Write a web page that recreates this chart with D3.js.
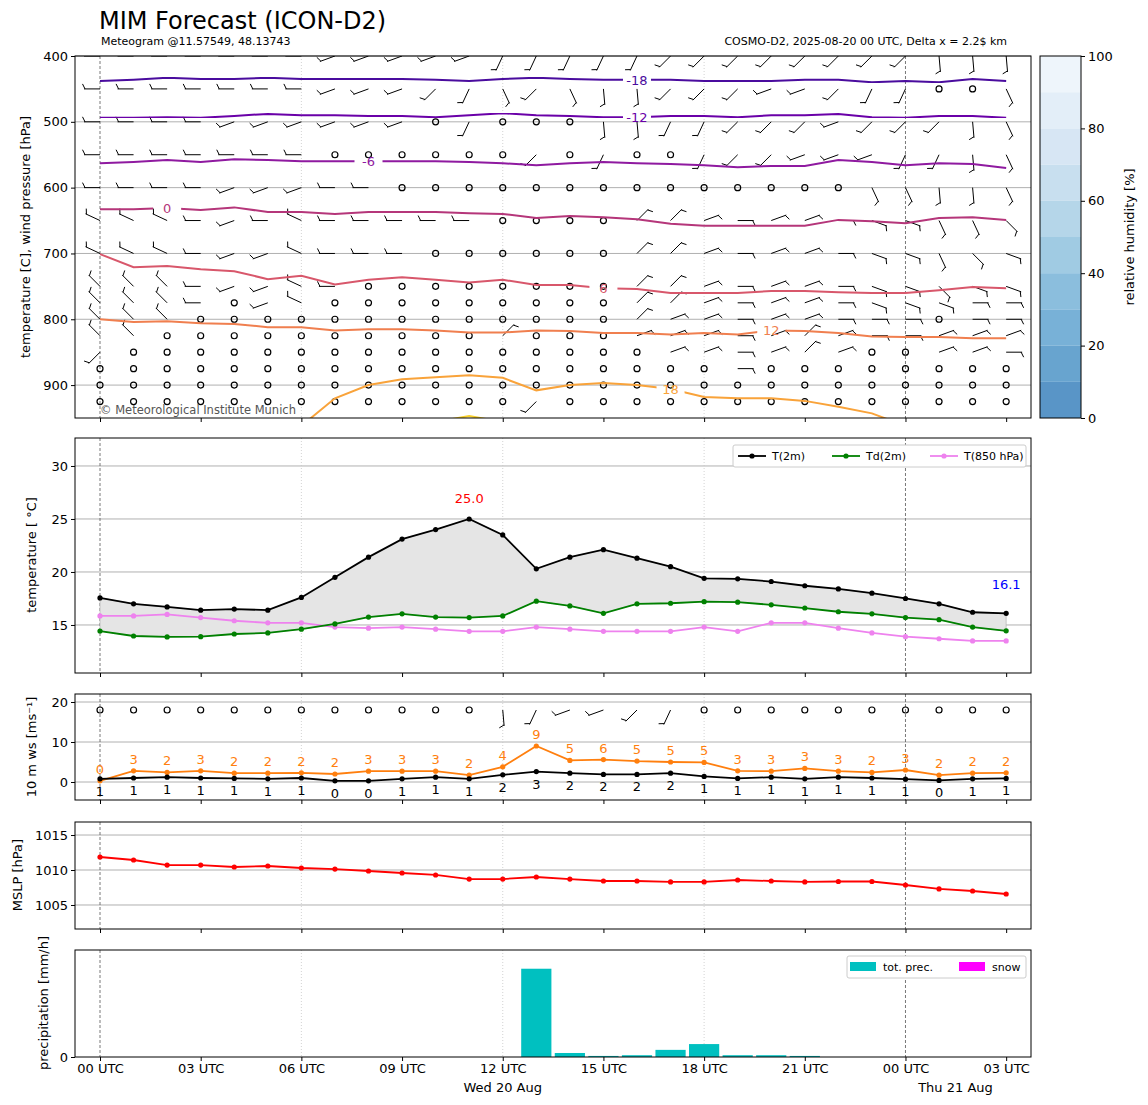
<!DOCTYPE html>
<html><head><meta charset="utf-8">
<script src="https://cdn.jsdelivr.net/npm/d3@7"></script>
<style>body{margin:0;background:#fff}text{font-family:"DejaVu Sans",sans-serif}</style>
</head><body><svg id="c" width="1148" height="1105"></svg>
<script>
const hours=[0,1,2,3,4,5,6,7,8,9,10,11,12,13,14,15,16,17,18,19,20,21,22,23,24,25,26,27];
const xTicks=[0,3,6,9,12,15,18,21,24,27];
const xTickLabels=["00 UTC","03 UTC","06 UTC","09 UTC","12 UTC","15 UTC","18 UTC","21 UTC","00 UTC","03 UTC"];
const pressureTicks=[400,500,600,700,800,900];
const barbLevels=[400,450,500,550,600,650,700,750,775,800,825,850,875,900,925];
const barbRows=[
"WWWWWWWwwwwwsssssSSSSSSSSUUU",
"WWWWWWWwwwSsqSqUUSSSwwSssooq",
"WWWWwwwwwwosoooUUssSSSwSSSUq",
"WWWWWWWooooooSosoosSSwwwssUq",
"WWWWwwwWWooooooooooooooqqUUq",
"TTTWwWTWWWWWooooNNeEeeExxqqQ",
"TTTWwwTWWWooooooNNeEeeExxqQx",
"MMMWwwTWooooooooNNeEeeExxQxx",
"MMMWowToooooooooNNeEeeExxxEE",
"MMMoooooooooooooNeeEeeEEEoEE",
"MMooooooooooNoooeeeEeNeEEeee",
"SooooooooooooooooeeEeNeooeeE",
"oooooooooooooooooooEoooooooo",
"oooooooooooooooooooooooooooo",
"oooooooooooooSoooooooooooooo"];
const wind10Row="ooooooooooooUswwSsoooooooooo";
const dirCodes={W:270,w:250,S:225,s:205,U:175,q:155,Q:135,x:110,E:90,e:70,N:45,T:295,M:315};
const isoLevels=[-18,-12,-6,0,6,12,18,24];
const isoColors=["#4a0c9e","#6a00a8","#8f1aa0","#b5367a","#d8576b","#f07f4f","#f9a33a","#f8d02a"];
const iso_m18=[438,436,433,435,435,433,435,435,435,435,436,438,435,433,435,436,436,436,438,438,438,436,436,440,438,440,435,438];
const iso_m12=[494,494,493,494,491,488,490,490,491,491,493,490,487,490,491,493,493,491,491,493,490,490,488,493,494,491,491,494];
const iso_m6=[563,561,558,561,557,558,560,560,560,560,560,561,563,566,563,561,563,564,566,569,567,567,558,561,566,563,564,570];
const iso_0=[633,633,631,634,630,637,637,640,637,637,637,639,640,646,643,645,648,655,658,658,658,658,649,651,654,646,645,649];
const iso_6=[701,721,719,724,727,739,734,747,740,736,740,744,740,748,748,753,754,760,760,760,757,757,759,760,760,756,751,753];
const iso_12=[800,804,803,806,807,812,812,817,815,815,817,820,820,817,818,821,821,823,821,823,817,818,821,826,827,827,829,829];
const iso_18=[null,null,null,null,null,null,962,920,900,891,888,885,889,908,900,897,900,906,918,920,920,924,933,943,962,null,null,null];
const iso_24=[null,null,null,null,null,null,null,null,null,null,956,947,956,null,null,null,null,null,null,null,null,null,null,null,null,null,null,null];
const isoLabelHour=[16,16,8,2,15,20,17,null];
const t2m=[17.55,17.0,16.7,16.4,16.5,16.4,17.6,19.5,21.4,23.1,24.0,25.0,23.5,20.3,21.4,22.1,21.3,20.5,19.4,19.35,19.1,18.7,18.4,18.0,17.5,17.0,16.2,16.1];
const td2m=[14.43,13.96,13.87,13.9,14.15,14.25,14.6,15.1,15.75,16.05,15.75,15.7,15.85,17.25,16.8,16.1,17.0,17.05,17.2,17.15,16.9,16.6,16.25,16.05,15.7,15.5,14.8,14.45];
const t850=[15.85,15.85,16.0,15.7,15.4,15.2,15.2,14.8,14.7,14.8,14.6,14.4,14.4,14.8,14.6,14.4,14.4,14.4,14.8,14.4,15.2,15.2,14.7,14.25,13.9,13.7,13.5,13.5];
const wsMean=[0.8,1.0,1.2,1.0,0.9,0.8,1.0,0.3,0.3,0.8,1.2,0.8,1.8,2.6,2.2,1.9,1.9,2.2,1.4,0.9,1.2,0.8,1.2,1.0,0.7,0.4,0.8,0.9];
const wsGust=[0.3,2.8,2.4,2.8,2.2,2.2,2.3,2.0,2.7,2.7,2.7,1.7,3.8,9.0,5.4,5.6,5.2,5.0,4.9,2.8,2.7,3.4,2.7,2.4,3.0,1.7,2.2,2.3];
const mslp=[1011.86,1011.43,1010.71,1010.71,1010.43,1010.57,1010.29,1010.14,1009.86,1009.57,1009.29,1008.71,1008.71,1009.0,1008.71,1008.43,1008.43,1008.29,1008.29,1008.57,1008.43,1008.29,1008.36,1008.36,1007.86,1007.29,1007.0,1006.57];
const precip=[0,0,0,0,0,0,0,0,0,0,0,0,0,0.99,0.045,0.012,0.02,0.08,0.145,0.02,0.02,0.012,0,0,0,0,0,0];
const snow=[0,0,0,0,0,0,0,0,0,0,0,0,0,0,0,0,0,0,0,0,0,0,0,0,0,0,0,0];
const rhBands=[0,10,20,30,40,50,60,70,80,90,100];

const svg=d3.select("#c");
const L=75,R=1031;
const x=d3.scaleLinear().domain([-0.745,27.74]).range([L,R]);
const P=[{t:56,b:418},{t:438,b:673},{t:694,b:800},{t:822,b:929},{t:950,b:1057}];
const yP=d3.scaleLinear().domain([400,950]).range([56,418]);
const yT=d3.scaleLinear().domain([10.47,32.64]).range([673,438]);
const yW=d3.scaleLinear().domain([-4.5,22]).range([800,694]);
const yM=d3.scaleLinear().domain([1001.57,1016.86]).range([929,822]);
const yR=d3.scaleLinear().domain([0,1.2]).range([1057,950]);
const ys=[yP,yT,yW,yM,yR];

const defs=svg.append("defs");
P.forEach((p,i)=>defs.append("clipPath").attr("id","cl"+i).append("rect").attr("x",L).attr("y",p.t).attr("width",R-L).attr("height",p.b-p.t));

function grid(i,ticks){
  const g=svg.append("g");
  ticks.forEach(v=>g.append("line").attr("x1",L).attr("x2",R).attr("y1",ys[i](v)).attr("y2",ys[i](v)).attr("stroke","#b0b0b0").attr("stroke-width",1));
  [6,12,18].forEach(h=>g.append("line").attr("x1",x(h)).attr("x2",x(h)).attr("y1",P[i].t).attr("y2",P[i].b).attr("stroke","#c8c8c8").attr("stroke-width",0.8).attr("stroke-dasharray","1,2"));
  [0,24].forEach(h=>g.append("line").attr("x1",x(h)).attr("x2",x(h)).attr("y1",P[i].t).attr("y2",P[i].b).attr("stroke","#555").attr("stroke-width",0.8).attr("stroke-dasharray","3,2"));
}
function frame(i,yTicks){
  const p=P[i];
  const ax=svg.append("g").attr("transform",`translate(${L},0)`).call(d3.axisLeft(ys[i]).tickValues(yTicks).tickSize(4).tickFormat(d=>String(d)));
  ax.select(".domain").remove();
  ax.selectAll("text").attr("font-size",13).attr("fill","#000").attr("font-family","DejaVu Sans");
  const bx=svg.append("g").attr("transform",`translate(0,${p.b})`).call(d3.axisBottom(x).tickValues(xTicks).tickSize(4).tickFormat(i==4?((d,k)=>xTickLabels[k]):""));
  bx.select(".domain").remove();
  bx.selectAll("text").attr("font-size",13).attr("font-family","DejaVu Sans").attr("fill","#000");
  svg.append("rect").attr("x",L).attr("y",p.t).attr("width",R-L).attr("height",p.b-p.t).attr("fill","none").attr("stroke","#000").attr("stroke-width",1);
}
function barb(g,cx,cy,code){
  if(code==="o"){g.append("circle").attr("cx",cx).attr("cy",cy).attr("r",3).attr("fill","none").attr("stroke","#000").attr("stroke-width",1.2);return;}
  const d=dirCodes[code]*Math.PI/180,Ls=16,ux=Math.sin(d),uy=-Math.cos(d);
  const ex=cx+ux*Ls,ey=cy+uy*Ls;
  g.append("line").attr("x1",cx).attr("y1",cy).attr("x2",ex).attr("y2",ey).attr("stroke","#000").attr("stroke-width",1);
  const fx=-uy,fy=ux;
  g.append("line").attr("x1",ex-ux*1).attr("y1",ey-uy*1).attr("x2",ex+fx*5+ux*1.5).attr("y2",ey+fy*5+uy*1.5).attr("stroke","#000").attr("stroke-width",1);
}

// ===== Panel 1
grid(0,pressureTicks);
const g1=svg.append("g").attr("clip-path","url(#cl0)");
barbLevels.forEach((lev,r)=>{const row=barbRows[r];hours.forEach(h=>barb(g1,x(h),yP(lev),row[h]||"o"));});
const isoData=[iso_m18,iso_m12,iso_m6,iso_0,iso_6,iso_12,iso_18,iso_24];
const ln=d3.line().defined(d=>d[1]!=null).x(d=>x(d[0])).y(d=>yP(d[1]));
isoData.forEach((arr,k)=>{
  const pts=hours.map(h=>[h,arr[h]]);
  const lh=isoLabelHour[k];
  const id="iso"+k;
  if(lh!=null){
    const m=defs.append("mask").attr("id",id);
    m.append("rect").attr("x",0).attr("y",0).attr("width",1148).attr("height",1105).attr("fill","#fff");
    m.append("rect").attr("x",x(lh)-14).attr("y",yP(arr[lh])-9).attr("width",28).attr("height",18).attr("fill","#000");
  }
  const gg=g1.append("g");
  gg.append("path").attr("d",ln(pts)).attr("fill","none").attr("stroke",isoColors[k]).attr("stroke-width",2).attr("mask",lh!=null?`url(#${id})`:null);
  if(lh!=null) gg.append("text").attr("x",x(lh)).attr("y",yP(arr[lh])+5).attr("text-anchor","middle").attr("font-size",13).attr("fill",isoColors[k]).text(isoLevels[k]);
});
svg.append("text").attr("x",100).attr("y",414).attr("font-size",11.5).attr("fill","#555").text("© Meteorological Institute Munich");
frame(0,pressureTicks);

// colorbar
const cb=d3.scaleLinear().domain([0,100]).range([418,56]);
const cbx=1040,cbw=41;
rhBands.slice(0,-1).forEach((v,k)=>svg.append("rect").attr("x",cbx).attr("y",cb(v+10)).attr("width",cbw).attr("height",cb(v)-cb(v+10)).attr("fill",d3.interpolateBlues(0.75-k*0.075)).attr("opacity",0.75));
svg.append("rect").attr("x",cbx).attr("y",56).attr("width",cbw).attr("height",362).attr("fill","none").attr("stroke","#000");
const cax=svg.append("g").attr("transform",`translate(${cbx+cbw},0)`).call(d3.axisRight(cb).tickValues([0,20,40,60,80,100]).tickSize(4).tickFormat(d=>String(d)));
cax.select(".domain").remove();cax.selectAll("text").attr("font-size",13).attr("font-family","DejaVu Sans");
svg.append("text").attr("transform","translate(1134,237) rotate(-90)").attr("text-anchor","middle").attr("font-size",13).text("relative humidity [%]");

// ===== Panel 2
grid(1,[15,20,25,30]);
const g2=svg.append("g").attr("clip-path","url(#cl1)");
g2.append("path").attr("d",d3.area().x(h=>x(h)).y0(h=>yT(td2m[h])).y1(h=>yT(t2m[h]))(hours)).attr("fill","#e5e5e5").attr("stroke","#aaa").attr("stroke-width",0.6);
function series(g,ysc,arr,col){
  g.append("path").attr("d",d3.line().x(h=>x(h)).y(h=>ysc(arr[h]))(hours)).attr("fill","none").attr("stroke",col).attr("stroke-width",1.8);
  hours.forEach(h=>g.append("circle").attr("cx",x(h)).attr("cy",ysc(arr[h])).attr("r",2.6).attr("fill",col));
}
series(g2,yT,t850,"#ee82ee");series(g2,yT,td2m,"#008000");series(g2,yT,t2m,"#000");
const imax=d3.maxIndex(t2m);
svg.append("text").attr("x",x(imax)).attr("y",yT(t2m[imax])-16).attr("text-anchor","middle").attr("font-size",13).attr("fill","red").text(t2m[imax].toFixed(1));
svg.append("text").attr("x",x(27)).attr("y",yT(t2m[27])-24).attr("text-anchor","middle").attr("font-size",13).attr("fill","blue").text(t2m[27].toFixed(1));
const lg=svg.append("g");
lg.append("rect").attr("x",733).attr("y",445).attr("width",293).attr("height",22).attr("fill","#fff").attr("stroke","#ccc").attr("rx",2);
[["T(2m)","#000",738],["Td(2m)","#008000",832],["T(850 hPa)","#ee82ee",930]].forEach(([t,c,lx])=>{
  lg.append("line").attr("x1",lx).attr("x2",lx+28).attr("y1",456).attr("y2",456).attr("stroke",c).attr("stroke-width",1.8);
  lg.append("circle").attr("cx",lx+14).attr("cy",456).attr("r",2.6).attr("fill",c);
  lg.append("text").attr("x",lx+34).attr("y",460).attr("font-size",11).text(t);
});
frame(1,[15,20,25,30]);

// ===== Panel 3
grid(2,[0,10,20]);
const g3=svg.append("g").attr("clip-path","url(#cl2)");
hours.forEach(h=>barb(g3,x(h),yW(18),wind10Row[h]||"o"));
series(g3,yW,wsGust,"#ff7f0e");series(g3,yW,wsMean,"#000");
hours.forEach(h=>{
  svg.append("text").attr("x",x(h)).attr("y",yW(wsGust[h])-7).attr("text-anchor","middle").attr("font-size",13).attr("fill","#ff7f0e").text(Math.round(wsGust[h]));
  svg.append("text").attr("x",x(h)).attr("y",yW(wsMean[h])+17).attr("text-anchor","middle").attr("font-size",13).attr("fill","#000").text(Math.round(wsMean[h]));
});
frame(2,[0,10,20]);

// ===== Panel 4
grid(3,[1005,1010,1015]);
const g4=svg.append("g").attr("clip-path","url(#cl3)");
series(g4,yM,mslp,"red");
frame(3,[1005,1010,1015]);

// ===== Panel 5
grid(4,[]);
const g5=svg.append("g").attr("clip-path","url(#cl4)");
const bw=x(0.9)-x(0);
hours.forEach(h=>{
  if(precip[h]>0) g5.append("rect").attr("x",x(h)-bw/2).attr("y",yR(precip[h])).attr("width",bw).attr("height",yR(0)-yR(precip[h])).attr("fill","#00c0c0");
  if(snow[h]>0) g5.append("rect").attr("x",x(h)-bw/2).attr("y",yR(snow[h])).attr("width",bw).attr("height",yR(0)-yR(snow[h])).attr("fill","#ff00ff");
});
const lg2=svg.append("g");
lg2.append("rect").attr("x",847).attr("y",956).attr("width",179).attr("height",22).attr("fill","#fff").attr("stroke","#ccc").attr("rx",2);
lg2.append("rect").attr("x",850).attr("y",962).attr("width",26).attr("height",9).attr("fill","#00c0c0");
lg2.append("text").attr("x",883).attr("y",971).attr("font-size",11).text("tot. prec.");
lg2.append("rect").attr("x",959).attr("y",962).attr("width",26).attr("height",9).attr("fill","#ff00ff");
lg2.append("text").attr("x",992).attr("y",971).attr("font-size",11).text("snow");
frame(4,[0]);
svg.append("text").attr("x",x(12)).attr("y",1092).attr("text-anchor","middle").attr("font-size",13).text("Wed 20 Aug");
svg.append("text").attr("x",x(24)+50).attr("y",1092).attr("text-anchor","middle").attr("font-size",13).text("Thu 21 Aug");

svg.append("text").attr("x",99).attr("y",29).attr("font-size",24).text("MIM Forecast (ICON-D2)");
svg.append("text").attr("x",101).attr("y",45).attr("font-size",11).text("Meteogram @11.57549, 48.13743");
svg.append("text").attr("x",1007).attr("y",45).attr("text-anchor","end").attr("font-size",11).text("COSMO-D2, 2025-08-20 00 UTC, Delta x = 2.2$ km");
[["temperature [C], wind pressure [hPa]",30,237],["temperature [ °C]",36,555],["10 m ws [ms⁻¹]",36,747],["MSLP [hPa]",22,875],["precipitation [mm/h]",48,1003]].forEach(([t,lx,ly])=>
  svg.append("text").attr("transform",`translate(${lx},${ly}) rotate(-90)`).attr("text-anchor","middle").attr("font-size",13).text(t));
</script></body></html>
